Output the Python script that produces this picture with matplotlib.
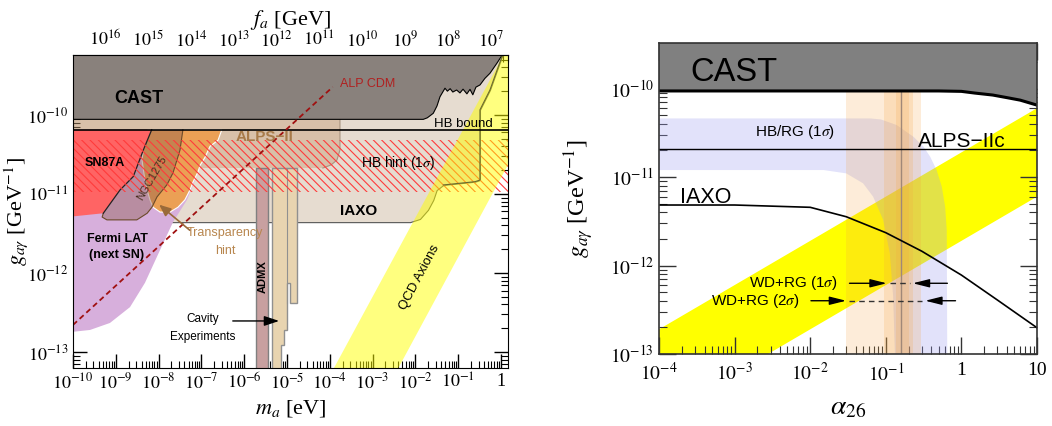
import numpy as np
import matplotlib
matplotlib.use('Agg')
import matplotlib.pyplot as plt
from matplotlib.ticker import LogLocator, FuncFormatter, NullFormatter

plt.rcParams['font.family'] = ['Liberation Serif', 'DejaVu Serif']
plt.rcParams['mathtext.fontset'] = 'stix'
plt.rcParams['hatch.linewidth'] = 0.8
SANS = ['Liberation Sans', 'DejaVu Sans']

# ------------------------- LEFT PANEL DATA -------------------------
m_lim = [1e-10, 1.46]
g_lim = [6.27e-14, 5.74e-10]

cast_m = [1e-10, 1.53e-2, 1.9e-2, 2.62e-2, 3.2e-2, 3.76e-2, 4.92e-2, 5.6e-2, 6.5e-2, 7.5e-2, 9.2e-2,
          0.11, 0.13, 0.16, 0.189, 0.22, 0.26, 0.324, 0.42, 0.553, 0.8, 1.13, 1.46]
cast_g = [8.8e-11, 8.8e-11, 9.2e-11, 1.05e-10, 1.3e-10, 1.7e-10, 2.18e-10, 2.0e-10, 2.15e-10, 1.95e-10, 2.07e-10,
          1.9e-10, 2.12e-10, 1.85e-10, 2.11e-10, 1.8e-10, 2.25e-10, 2.4e-10, 2.9e-10, 3.37e-10, 4.5e-10, 6.0e-10, 6.5e-10]

iaxo_m = [1e-10, 7.5e-3, 1.28e-2, 1.97e-2, 2.62e-2, 3.14e-2, 4.5e-2, 0.247, 0.323, 0.323, 0.553, 1.13, 1.46]
iaxo_g = [4.4e-12, 4.4e-12, 4.83e-12, 6.3e-12, 8.4e-12, 1.12e-11, 1.3e-11, 1.43e-11, 1.5e-11, 1.16e-10, 2.07e-10, 6.1e-10, 7e-10]

alps_m = [1e-10, 1.73e-4, 1.73e-4, 1.47e-4, 1.07e-4, 6.9e-5, 1e-10]
alps_g = [8.8e-11, 8.8e-11, 3.6e-11, 2.69e-11, 2.33e-11, 2.13e-11, 2.13e-11]

hb_bound = 6.5e-11
hb_hint = [1.07e-11, 4.8e-11]

sn_m = [1e-10, 6.9e-9, 4.4e-9, 2.56e-9, 1.25e-9, 5.1e-10, 1e-10]
sn_g = [6.5e-11, 6.5e-11, 3.6e-11, 1.66e-11, 1.12e-11, 5.7e-12, 5.2e-12]

fermi_m = [1e-10, 1e-10, 2.5e-10, 7.3e-10, 2.15e-9, 4.8e-9, 1.08e-8, 2.17e-8, 4.6e-8, 7.1e-8, 1.09e-7, 1.59e-7, 2.08e-7]
fermi_g = [6.5e-11, 1.8e-13, 1.9e-13, 2.33e-13, 3.7e-13, 7.5e-13, 1.95e-12, 4.4e-12, 8.4e-12, 1.5e-11, 2.9e-11, 4.8e-11, 6.5e-11]

transp_m = [5.6e-9, 3.0e-7, 2.45e-7, 1.59e-7, 1.21e-7, 9.3e-8, 8.3e-8, 6.4e-8, 5.4e-8, 4.1e-8, 2.84e-8,
            1.85e-8, 1.08e-8, 7.4e-9, 6.3e-9, 5.4e-9, 4.6e-9, 4.1e-9, 4.6e-9]
transp_g = [6.5e-11, 6.5e-11, 4.8e-11, 4.0e-11, 2.9e-11, 2.3e-11, 1.9e-11, 1.42e-11, 1.12e-11, 8.4e-12, 6.8e-12,
            5.9e-12, 5.9e-12, 6.8e-12, 8.4e-12, 1.12e-11, 1.74e-11, 2.7e-11, 4.2e-11]

ngc_m = [3.7e-8, 3.16e-8, 2.17e-8, 1.57e-8, 9.2e-9, 7.0e-9, 5.4e-9, 3.1e-9, 6.2e-10, 4.8e-10,
         5.1e-10, 1.25e-9, 2.56e-9, 4.4e-9, 6.9e-9]
ngc_g = [6.5e-11, 3.6e-11, 1.85e-11, 1.31e-11, 9.2e-12, 6.8e-12, 5.7e-12, 4.7e-12, 4.7e-12, 5.1e-12,
         5.7e-12, 1.12e-11, 1.66e-11, 3.6e-11, 6.5e-11]

admx_m = [1.89e-6, 3.66e-6]
admx_g = [2.13e-11, 2.13e-11]

cav_m = [4.4e-6, 4.4e-6, 1.71e-5, 1.71e-5, 1.17e-5, 1.17e-5, 1.0e-5, 1.0e-5, 8.5e-6, 8.5e-6, 7.2e-6, 7.2e-6]
cav_g = [6e-14, 2.13e-11, 2.13e-11, 4.17e-13, 4.17e-13, 7.5e-13, 7.5e-13, 1.9e-13, 1.9e-13, 1.23e-13, 1.23e-13, 6e-14]

qcd_m = [1.0e-4, 1.5, 1.5, 3.2e-3]
qcd_g = [5.0e-14, 7.5e-10, 2.4e-11, 5.0e-14]

alp_m = [1e-10, 1.17e-4]
alp_g = [2.2e-13, 2.26e-10]

# ------------------------- RIGHT PANEL DATA -------------------------
a_lim = [1e-4, 10]
g2_lim = [1e-13, 3.3e-10]

cast2_a = [1e-4, 0.5, 1.0, 1.5, 2.6, 4.0, 6.0, 10]
cast2_g = [9.4e-11, 9.4e-11, 9.3e-11, 8.9e-11, 8.45e-11, 7.9e-11, 7.4e-11, 6.5e-11]

alps2_g = 2.07e-11

iaxo2_a = [1e-4, 1e-3, 1e-2, 0.03, 0.1, 0.3, 1, 3, 10]
iaxo2_g = [4.83e-12, 4.83e-12, 4.55e-12, 3.56e-12, 2.35e-12, 1.45e-12, 7.8e-13, 4.07e-13, 1.98e-13]

hbrg_up_a = [1e-4, 0.0618, 0.086, 0.1395, 0.2326, 0.3155, 0.386, 0.47, 0.55, 0.61, 0.64, 0.65]
hbrg_up_g = [4.6e-11, 4.6e-11, 4.48e-11, 3.87e-11, 2.85e-11, 2.2e-11, 1.7e-11, 1.2e-11, 7.8e-12, 4.6e-12, 2.5e-12, 1e-13]
hbrg_lo_a = [1e-4, 0.015, 0.03, 0.05, 0.068, 0.092, 0.113, 0.125, 0.132]
hbrg_lo_g = [1.2e-11, 1.2e-11, 1.1e-11, 8.5e-12, 6.0e-12, 3.3e-12, 1.37e-12, 4.5e-13, 1e-13]

wd_lo = [0.03, 0.0957, 0.137]
wd_hi = [0.288, 0.226, 0.2]
wd_best = 0.159

qcd2_a = [1e-4, 10, 10, 1e-4]
qcd2_g = [1.9e-13, 6.0e-11, 6.0e-12, 1.9e-14]

wd1_g = 6.3e-13
wd1_arrows = [0.0304, 0.112, 0.209, 0.71]   # tail, tip | tip, tail
wd2_g = 4.0e-13
wd2_arrows = [0.0094, 0.0325, 0.305, 0.91]

# ------------------------- FIGURE -------------------------
fig = plt.figure(figsize=(10.52, 4.26), dpi=100)
ax1 = fig.add_axes([73/1052, 1-368/426, 435/1052, 313/426])
ax2 = fig.add_axes([659/1052, 1-354/426, 378/1052, 311.3/426])


def logfmt(v, pos):
    e = int(round(np.log10(v)))
    if e == 0:
        return '1'
    if e == 1:
        return '10'
    return r'$10^{%d}$' % e


for ax in (ax1, ax2):
    ax.set_xscale('log')
    ax.set_yscale('log')

# ---- left panel drawing ----
ax1.set_xlim(m_lim)
ax1.set_ylim(g_lim)
ax1.fill_between(iaxo_m, iaxo_g, 1e-8, facecolor='#e6dcd0', edgecolor='#555555', lw=0.8, zorder=1)
ax1.fill(alps_m, alps_g, facecolor='#c9a07a', alpha=0.45, edgecolor='none', zorder=2)
ax1.plot(alps_m[1:6], alps_g[1:6], color='#a89480', lw=0.8, zorder=2)
ax1.fill(fermi_m, fermi_g, facecolor='#d7afdc', edgecolor='none', zorder=3)
ax1.fill(transp_m, transp_g, facecolor='#eba055', edgecolor='white', lw=0.8, zorder=4)
ax1.fill(ngc_m, ngc_g, facecolor='#8b5a4a', alpha=0.4, edgecolor='none', zorder=5)
ax1.plot(ngc_m[:11], ngc_g[:11], color='#6b4a2a', lw=0.8, zorder=5)
ax1.fill(sn_m, sn_g, facecolor='#ff6464', edgecolor='none', zorder=6)
ax1.plot(sn_m[1:6], sn_g[1:6], color='#222222', lw=0.9, zorder=6)
ax1.fill_between(admx_m, 1e-14, admx_g, facecolor='#c8a0a0', edgecolor='#808080', lw=1.0, zorder=6)
ax1.fill(cav_m, cav_g, facecolor='#e8d4b0', edgecolor='#909090', lw=1.0, zorder=6)
ax1.plot([9.8e-6, 9.8e-6], [4.17e-13, admx_g[0]], color='#909090', lw=0.8, zorder=6)
ax1.fill_between(m_lim, hb_hint[0], hb_hint[1], facecolor='none', edgecolor='#ff3b3b',
                 hatch='\\\\\\\\', lw=0, zorder=7)
ax1.fill(qcd_m, qcd_g, facecolor='#ffff00', alpha=0.5, edgecolor='none', zorder=8)
ax1.fill_between(cast_m, cast_g, 1e-8, facecolor='#89817c', edgecolor='none', zorder=7.5)
ax1.plot(cast_m, cast_g, color='k', lw=0.8, zorder=7.6)
ax1.plot(iaxo_m[6:], iaxo_g[6:], color='#6b6b30', lw=0.8, zorder=8.5)
ax1.axhline(hb_bound, color='k', lw=1.2, zorder=9)
ax1.plot(alp_m, alp_g, color='#a01010', lw=1.3, ls=(0, (3, 2)), zorder=9)

kw = dict(family=SANS, zorder=10)
ax1.text(3.5e-9, 1.6e-10, 'CAST', fontsize=13, weight='bold', ha='center', va='center', **kw)
ax1.text(5.6e-10, 2.47e-11, 'SN87A', fontsize=9, weight='bold', ha='center', va='center', **kw)
ax1.text(7.0e-9, 1.6e-11, 'NGC1275', fontsize=8, color='#4a3020', rotation=60, ha='center', va='center', **kw)
ax1.text(3.06e-6, 5.3e-11, 'ALPS−II', fontsize=11, weight='bold', color='#a87b4a', ha='center', va='center', **kw)
ax1.text(0.129, 7.7e-11, 'HB bound', fontsize=9.5, ha='center', va='center', **kw)
ax1.text(3.9e-3, 2.47e-11, r'HB hint (1$\sigma$)', fontsize=10, ha='center', va='center', **kw)
ax1.text(4.6e-4, 6.1e-12, 'IAXO', fontsize=11, weight='bold', ha='center', va='center', **kw)
ax1.text(7.8e-4, 2.5e-10, 'ALP CDM', fontsize=9, color='#b02020', ha='center', va='center', **kw)
ax1.text(1.07e-9, 2.13e-12, 'Fermi LAT\n(next SN)', fontsize=9, weight='bold', ha='center', va='center',
         linespacing=1.5, **kw)
ax1.text(2.75e-6, 8.9e-13, 'ADMX', fontsize=8, weight='bold', rotation=90, ha='center', va='center', **kw)
ax1.text(1.28e-2, 8.9e-13, 'QCD Axions', fontsize=9.5, rotation=62, ha='center', va='center', **kw)
ax1.text(3.56e-7, 2.47e-12, 'Transparency\nhint', fontsize=9, color='#b8864e', ha='center', va='center',
         linespacing=1.6, **kw)
ax1.annotate('', xy=(9.2e-9, 7.7e-12), xytext=(6.0e-8, 3.3e-12), zorder=10,
             arrowprops=dict(arrowstyle='-|>,head_length=0.7,head_width=0.3', color='#9a6a3a', lw=1.2))
ax1.text(1.09e-7, 2.0e-13, 'Cavity\nExperiments', fontsize=8.5, ha='center', va='center', linespacing=1.6, **kw)
ax1.annotate('', xy=(7.6e-6, 2.47e-13), xytext=(4.66e-7, 2.47e-13), zorder=10,
             arrowprops=dict(arrowstyle='-|>,head_length=0.9,head_width=0.3', color='k', lw=1.0))

ax1.xaxis.set_major_locator(LogLocator(base=10, numticks=30))
ax1.xaxis.set_minor_locator(LogLocator(base=10, subs=np.arange(2, 10), numticks=30))
ax1.yaxis.set_major_locator(LogLocator(base=10, numticks=30))
ax1.yaxis.set_minor_locator(LogLocator(base=10, subs=np.arange(2, 10), numticks=30))
ax1.xaxis.set_major_formatter(FuncFormatter(logfmt))
ax1.yaxis.set_major_formatter(FuncFormatter(logfmt))
ax1.xaxis.set_minor_formatter(NullFormatter())
ax1.yaxis.set_minor_formatter(NullFormatter())
ax1.tick_params(which='both', direction='in', top=False, right=True, labelsize=13, zorder=20)
ax1.tick_params(which='major', length=10, width=1)
ax1.tick_params(which='minor', length=5, width=0.8)
for s in ax1.spines.values():
    s.set_zorder(20)

sec = ax1.secondary_xaxis('top', functions=(lambda m: 5.7e6 / m, lambda f: 5.7e6 / f))
sec.xaxis.set_major_locator(LogLocator(base=10, numticks=30))
sec.xaxis.set_minor_locator(LogLocator(base=10, subs=np.arange(2, 10), numticks=30))
sec.xaxis.set_major_formatter(FuncFormatter(logfmt))
sec.xaxis.set_minor_formatter(NullFormatter())
sec.tick_params(which='both', direction='in', labelsize=13)
sec.tick_params(which='major', length=10, width=1)
sec.tick_params(which='minor', length=5, width=0.8)
sec.set_xlabel('$f_a$ [GeV]', fontsize=16, labelpad=4)

ax1.set_xlabel('$m_a$ [eV]', fontsize=16, labelpad=4)
ax1.set_ylabel(r'$g_{a\gamma}$ [GeV$^{-1}$]', fontsize=16)
ax1.yaxis.set_label_coords(-0.098, 0.5)

# ---- right panel drawing ----
ax2.set_xlim(a_lim)
ax2.set_ylim(g2_lim)
ax2.fill(qcd2_a, qcd2_g, facecolor='#ffff00', edgecolor='none', zorder=1)
hb_a = hbrg_up_a + hbrg_lo_a[::-1]
hb_g = hbrg_up_g + hbrg_lo_g[::-1]
ax2.fill(hb_a, hb_g, facecolor='#a0a0f0', alpha=0.3, edgecolor='none', zorder=2)
for lo, hi in zip(wd_lo, wd_hi):
    ax2.axvspan(lo, hi, facecolor='#f5a442', alpha=0.2, edgecolor='none', zorder=3)
ax2.axvline(wd_best, color='#a08878', lw=1.0, zorder=3.5)
ax2.axhline(alps2_g, color='k', lw=1.0, zorder=4)
ax2.plot(iaxo2_a, iaxo2_g, color='k', lw=1.2, zorder=4)
ax2.fill_between(cast2_a, cast2_g, 1e-8, facecolor='#808080', edgecolor='none', zorder=5)
ax2.plot(cast2_a, cast2_g, color='k', lw=2.2, zorder=6)

for gv, arr in ((wd1_g, wd1_arrows), (wd2_g, wd2_arrows)):
    ax2.annotate('', xy=(arr[1], gv), xytext=(arr[0], gv), zorder=7,
                 arrowprops=dict(arrowstyle='-|>,head_length=1.0,head_width=0.25', color='k', lw=1.0))
    ax2.annotate('', xy=(arr[2], gv), xytext=(arr[3], gv), zorder=7,
                 arrowprops=dict(arrowstyle='-|>,head_length=1.0,head_width=0.25', color='k', lw=1.0))
    ax2.plot([arr[1], arr[2]], [gv, gv], color='#333333', lw=1.0, ls=(0, (4, 3)), zorder=7)

kw2 = dict(family=SANS, zorder=8)
ax2.text(2.57e-4, 1.5e-10, 'CAST', fontsize=23.5, ha='left', va='center', **kw2)
ax2.text(6.3e-3, 3.2e-11, r'HB/RG (1$\sigma$)', fontsize=11, ha='center', va='center', **kw2)
ax2.text(0.267, 2.55e-11, 'ALPS−IIc', fontsize=15, ha='left', va='center', **kw2)
ax2.text(1.9e-4, 5.8e-12, 'IAXO', fontsize=15.5, ha='left', va='center', **kw2)
ax2.text(0.0233, wd1_g, r'WD+RG (1$\sigma$)', fontsize=11, ha='right', va='center', **kw2)
ax2.text(7.3e-3, wd2_g, r'WD+RG (2$\sigma$)', fontsize=11, ha='right', va='center', **kw2)

ax2.xaxis.set_major_locator(LogLocator(base=10, numticks=30))
ax2.xaxis.set_minor_locator(LogLocator(base=10, subs=np.arange(2, 10), numticks=30))
ax2.yaxis.set_major_locator(LogLocator(base=10, numticks=30))
ax2.yaxis.set_minor_locator(LogLocator(base=10, subs=np.arange(2, 10), numticks=30))
ax2.xaxis.set_major_formatter(FuncFormatter(logfmt))
ax2.yaxis.set_major_formatter(FuncFormatter(logfmt))
ax2.xaxis.set_minor_formatter(NullFormatter())
ax2.yaxis.set_minor_formatter(NullFormatter())
ax2.tick_params(which='both', direction='in', top=True, right=True, labelsize=14, colors='#333333',
                labelcolor='k', zorder=20)
ax2.tick_params(axis='x', which='major', pad=6)
ax2.tick_params(which='major', length=12, width=1)
ax2.tick_params(which='minor', length=6, width=0.8)
for s in ax2.spines.values():
    s.set_color('#333333')
    s.set_linewidth(1.2)
    s.set_zorder(20)
ax2.set_xlabel(r'$\alpha_{26}$', fontsize=20, labelpad=8)
ax2.set_ylabel(r'$g_{a\gamma}$ [GeV$^{-1}$]', fontsize=17.5, labelpad=10)

fig.savefig('out.png', dpi=100)
